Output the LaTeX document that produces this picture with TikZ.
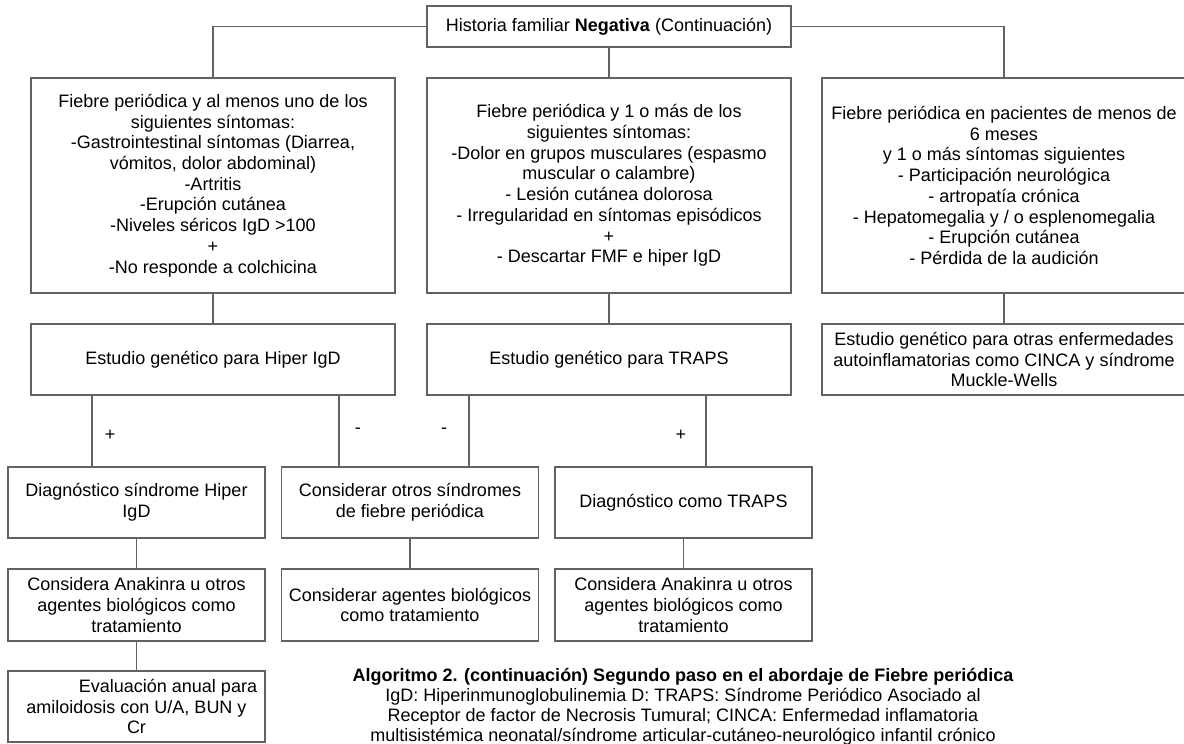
\documentclass[tikz,border=0pt]{standalone}
\usepackage{fontspec}
\setmainfont{Liberation Sans}
\usepackage{tikz}
\usetikzlibrary{positioning}
\definecolor{linegray}{HTML}{626262}

\begin{document}
\begin{tikzpicture}[x=1pt, y=-1pt, line width=1.8pt, draw=linegray,
                    font=\fontsize{18}{20.7}\selectfont]
  \tikzstyle{box}=[draw=linegray, rectangle, align=center, inner sep=2pt,
                   minimum width=364pt, minimum height=71pt, text=black]
  \tikzstyle{small box}=[box, minimum width=257pt]
  \tikzstyle{sign}=[text=black, inner sep=0pt]
  \useasboundingbox (0,0) rectangle (1184,744);

  \node[box, minimum height=41pt] (top) at (609,26.5)
        {Historia familiar \textbf{Negativa} (Continuación)};

  \node[box, minimum height=215pt] (A) at (213,185.5)
        {Fiebre periódica y al menos uno de los\\ siguientes síntomas:\\
         -Gastrointestinal síntomas (Diarrea,\\ vómitos, dolor abdominal)\\
         -Artritis\\ -Erupción cutánea\\ -Niveles séricos IgD >100\\ +\\
         -No responde a colchicina};
  \node[box, minimum height=215pt] (B) at (609,185.5)
        {Fiebre periódica y 1 o más de los\\ siguientes síntomas:\\
         -Dolor en grupos musculares (espasmo\\ muscular o calambre)\\
         - Lesión cutánea dolorosa\\ - Irregularidad en síntomas episódicos\\
         +\\ - Descartar FMF e hiper IgD};
  \node[box, minimum height=215pt] (C) at (1004,185.5)
        {Fiebre periódica en pacientes de menos de\\ 6 meses\\
         y 1 o más síntomas siguientes\\ - Participación neurológica\\
         - artropatía crónica\\ - Hepatomegalia y / o esplenomegalia\\
         - Erupción cutánea\\ - Pérdida de la audición};

  \node[box] (estA) at (213,359.5)  {Estudio genético para Hiper IgD};
  \node[box] (estB) at (609,359.5)  {Estudio genético para TRAPS};
  \node[box] (estC) at (1004,359.5)
        {Estudio genético para otras enfermedades\\
         autoinflamatorias como CINCA y síndrome\\ Muckle-Wells};

  \node[small box] (diagA) at (136.5,502.5) {Diagnóstico síndrome Hiper\\ IgD};
  \node[small box] (otros) at (410,502.5)
        {Considerar otros síndromes\\ de fiebre periódica};
  \node[small box] (diagB) at (683.5,502.5) {Diagnóstico como TRAPS};

  \node[small box, minimum height=72pt] (trtA) at (136.5,605)
        {Considera Anakinra u otros\\ agentes biológicos como\\ tratamiento};
  \node[small box, minimum height=72pt] (trtO) at (410,605)
        {Considerar agentes biológicos\\ como tratamiento};
  \node[small box, minimum height=72pt] (trtB) at (683.5,605)
        {Considera Anakinra u otros\\ agentes biológicos como\\ tratamiento};

  \node[small box] (eval) at (136.5,706.5)
        {\hspace*{63pt}Evaluación anual para\\ amiloidosis con U/A, BUN y\\ Cr};

  \node[align=center, font=\fontsize{18}{20}\selectfont, inner sep=0pt] (capt) at (683,707)
        {\textbf{Algoritmo 2. (continuación) Segundo paso en el abordaje de Fiebre periódica}\\
         IgD: Hiperinmunoglobulinemia D: TRAPS: Síndrome Periódico Asociado al\\
         Receptor de factor de Necrosis Tumural; CINCA: Enfermedad inflamatoria\\
         multisistémica neonatal/síndrome articular-cutáneo-neurológico infantil crónico};

  % first level
  \draw (top.west) -| (A.north);
  \draw (top.east) -| (C.north);
  \draw (top.south) -- (B.north);
  \draw (A.south) -- (estA.north);
  \draw (B.south) -- (estB.north);
  \draw (C.south) -- (estC.north);

  % results of the genetic studies
  \draw ([xshift=62pt]estA.south west) -- ([xshift=62pt]estA.south west |- diagA.north)
        node[sign, midway, xshift=18pt, yshift=-4pt] {+};
  \draw ([xshift=-57pt]estA.south east) -- ([xshift=-57pt]estA.south east |- otros.north)
        node[sign, midway, xshift=19pt] {-};
  \draw ([xshift=43pt]estB.south west) -- ([xshift=43pt]estB.south west |- otros.north)
        node[sign, midway, xshift=-25pt] {-};
  \draw ([xshift=-86pt]estB.south east) -- ([xshift=-86pt]estB.south east |- diagB.north)
        node[sign, midway, xshift=-25pt, yshift=-4pt] {+};

  % treatment
  \draw (diagA.south) -- (trtA.north);
  \draw (otros.south) -- (trtO.north);
  \draw (diagB.south) -- (trtB.north);
  \draw (trtA.south) -- (eval.north);
\end{tikzpicture}
\end{document}
